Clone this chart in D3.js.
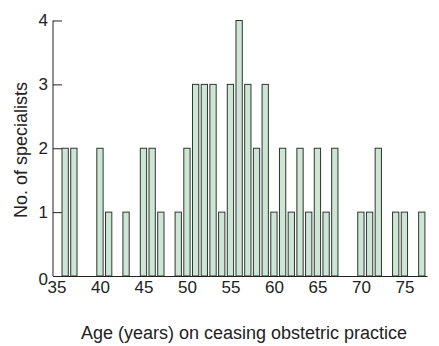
<!DOCTYPE html>
<meta charset="utf-8">
<script src="https://d3js.org/d3.v7.min.js"></script>
<style>
  body { margin: 0; background: #fff; }
  text { font-family: "Liberation Sans", Arial, sans-serif; fill: #222; }
</style>
<body>
<div id="vis"></div>
<script>
// ages (years) and number of specialists ceasing at each age
var ages   = [36, 37, 40, 41, 43, 45, 46, 47, 49, 50, 51, 52, 53, 54, 55, 56, 57, 58, 59,
              60, 61, 62, 63, 64, 65, 66, 67, 70, 71, 72, 74, 75, 77];
var counts = [2, 2, 2, 1, 1, 2, 2, 1, 1, 2, 3, 3, 3, 1, 3, 4, 3, 2, 3,
              1, 2, 1, 2, 1, 2, 1, 2, 1, 1, 2, 1, 1, 1];
var xTicks = [35, 40, 45, 50, 55, 60, 65, 70, 75];
var yTicks = [0, 1, 2, 3, 4];

var data = ages.map(function(a, i) { return {age: a, n: counts[i]}; });

var W = 439, H = 346;
var svg = d3.select("#vis").append("svg")
    .attr("width", W)
    .attr("height", H);

//scales
var x = d3.scaleLinear()
    .domain([34.6, 77.6])
    .range([53, 427]);
var y = d3.scaleLinear()
    .domain([0, 4])
    .range([276, 20.5]);

var barW = 6.3;

//bars
svg.append("g")
  .selectAll("rect")
  .data(data)
  .enter()
  .append("rect")
    .attr("x", function(d) { return x(d.age) - barW / 2; })
    .attr("y", function(d) { return y(d.n); })
    .attr("width", barW)
    .attr("height", function(d) { return y(0) - y(d.n); })
    .style("fill", "#cbe6d3")
    .style("stroke", "#333")
    .style("stroke-width", 1);

//y axis, ticks pointing inward
var yAxis = svg.append("g")
    .attr("transform", "translate(" + x.range()[0] + ",0)")
    .call(d3.axisRight(y).tickValues(yTicks).tickSize(9).tickFormat(d3.format("d")));
yAxis.select(".domain").remove();
yAxis.selectAll(".tick line").attr("stroke", "#222");
yAxis.selectAll(".tick text")
    .attr("x", -5)
    .attr("text-anchor", "end")
    .style("font-size", "17px");
yAxis.selectAll(".tick").filter(function(d) { return d === 0; })
    .select("text").attr("dy", "0.5em");
yAxis.append("line")
    .attr("x1", 0).attr("x2", 0)
    .attr("y1", y(4)).attr("y2", y(0))
    .attr("stroke", "#222");

//x axis: baseline only, labels below
var xAxis = svg.append("g")
    .attr("transform", "translate(0," + y(0) + ")")
    .call(d3.axisBottom(x).tickValues(xTicks).tickSize(0).tickPadding(5));
xAxis.select(".domain").attr("stroke", "#222");
xAxis.selectAll(".tick text").style("font-size", "17px");

//axis titles
svg.append("text")
    .attr("x", 244)
    .attr("y", 339)
    .attr("text-anchor", "middle")
    .style("font-size", "18px")
    .text("Age (years) on ceasing obstetric practice");

svg.append("text")
    .attr("transform", "translate(27,150) rotate(-90)")
    .attr("text-anchor", "middle")
    .style("font-size", "18px")
    .text("No. of specialists");
</script>
</body>
